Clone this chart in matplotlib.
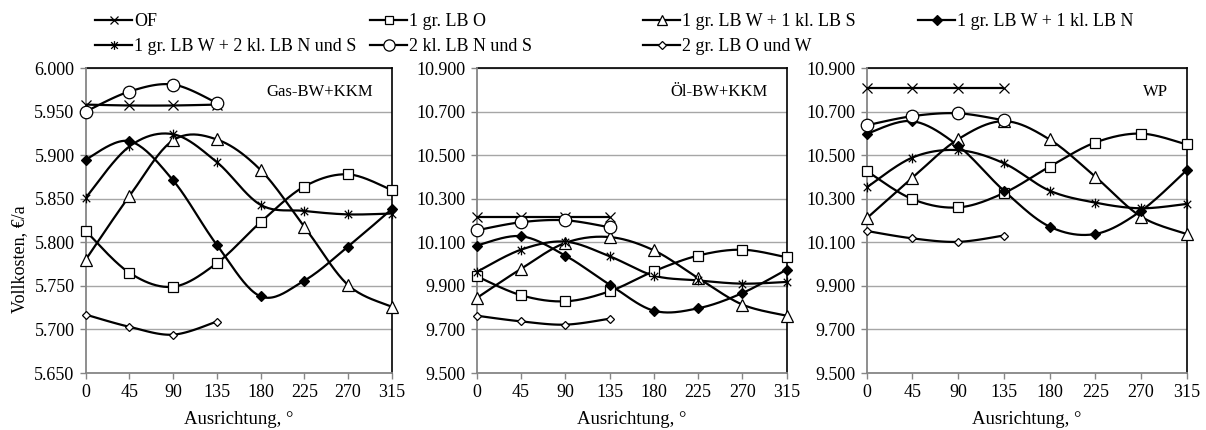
import numpy as np
import matplotlib
matplotlib.use("Agg")
import matplotlib.pyplot as plt
from matplotlib.path import Path
from matplotlib.lines import Line2D

plt.rcParams['font.family'] = ['Liberation Serif', 'DejaVu Serif']

# ---------------- data ----------------
angles = [0, 45, 90, 135, 180, 225, 270, 315]
angles_short = [0, 45, 90, 135]

series_names = ["OF", "1 gr. LB O", "1 gr. LB W + 1 kl. LB S", "1 gr. LB W + 1 kl. LB N",
                "1 gr. LB W + 2 kl. LB N und S", "2 kl. LB N und S", "2 gr. LB O und W"]

panel_titles = ["Gas-BW+KKM", "Öl-BW+KKM", "WP"]

# Gas-BW+KKM
gas_of = [5.958, 5.957, 5.957, 5.958]
gas_lbo = [5.813, 5.765, 5.749, 5.776, 5.823, 5.864, 5.878, 5.860]
gas_w1s = [5.780, 5.853, 5.917, 5.918, 5.883, 5.818, 5.751, 5.726]
gas_w1n = [5.895, 5.916, 5.871, 5.797, 5.738, 5.756, 5.795, 5.838]
gas_w2ns = [5.851, 5.910, 5.924, 5.892, 5.843, 5.836, 5.832, 5.833]
gas_2kns = [5.950, 5.973, 5.981, 5.960]
gas_2gow = [5.717, 5.703, 5.694, 5.709]

# Oel-BW+KKM
oel_of = [10.214, 10.214, 10.214, 10.214]
oel_lbo = [9.944, 9.857, 9.829, 9.875, 9.967, 10.039, 10.066, 10.031]
oel_w1s = [9.844, 9.978, 10.097, 10.124, 10.063, 9.936, 9.814, 9.763]
oel_w1n = [10.085, 10.128, 10.039, 9.906, 9.786, 9.797, 9.867, 9.975]
oel_w2ns = [9.964, 10.066, 10.103, 10.036, 9.947, 9.925, 9.910, 9.918]
oel_2kns = [10.155, 10.192, 10.201, 10.169]
oel_2gow = [9.763, 9.737, 9.722, 9.749]

# WP
wp_of = [10.808, 10.808, 10.808, 10.808]
wp_lbo = [10.427, 10.298, 10.260, 10.326, 10.447, 10.558, 10.599, 10.549]
wp_w1s = [10.210, 10.396, 10.573, 10.656, 10.572, 10.401, 10.218, 10.138]
wp_w1n = [10.598, 10.656, 10.543, 10.337, 10.172, 10.138, 10.244, 10.431]
wp_w2ns = [10.352, 10.489, 10.523, 10.463, 10.337, 10.282, 10.256, 10.276]
wp_2kns = [10.637, 10.679, 10.692, 10.660]
wp_2gow = [10.152, 10.118, 10.102, 10.131]

panels = [
    [gas_of, gas_lbo, gas_w1s, gas_w1n, gas_w2ns, gas_2kns, gas_2gow],
    [oel_of, oel_lbo, oel_w1s, oel_w1n, oel_w2ns, oel_2kns, oel_2gow],
    [wp_of, wp_lbo, wp_w1s, wp_w1n, wp_w2ns, wp_2kns, wp_2gow],
]
y_ranges = [(5.650, 6.000, 0.050), (9.500, 10.900, 0.200), (9.500, 10.900, 0.200)]

# ---------------- styles ----------------
asterisk = Path([(-1, -1), (1, 1), (-1, 1), (1, -1), (0, -1.3), (0, 1.3)],
                [Path.MOVETO, Path.LINETO, Path.MOVETO, Path.LINETO, Path.MOVETO, Path.LINETO])
styles = [
    dict(marker='x', ms=7, mfc='black'),
    dict(marker='s', ms=7, mfc='white'),
    dict(marker='^', ms=8, mfc='white'),
    dict(marker='D', ms=5.5, mfc='black'),
    dict(marker=asterisk, ms=7, mfc='black'),
    dict(marker='o', ms=9, mfc='white'),
    dict(marker='D', ms=4.5, mfc='white'),
]


def smooth(x, y, n=24):
    P = np.column_stack([np.asarray(x, float), np.asarray(y, float)])
    ext = np.vstack([P[0], P, P[-1]])
    t = np.linspace(0, 1, n)[:, None]
    out = []
    for i in range(len(P) - 1):
        p0, p1, p2, p3 = ext[i], ext[i + 1], ext[i + 2], ext[i + 3]
        c1 = p1 + (p2 - p0) / 6.0
        c2 = p2 - (p3 - p1) / 6.0
        seg = (1 - t) ** 3 * p1 + 3 * (1 - t) ** 2 * t * c1 + 3 * (1 - t) * t ** 2 * c2 + t ** 3 * p2
        out.append(seg if i == 0 else seg[1:])
    C = np.vstack(out)
    return C[:, 0], C[:, 1]


W, H = 1206, 430
fig = plt.figure(figsize=(W / 100, H / 100), dpi=100)

axes_px = [(85.7, 306.0), (476.7, 310.0), (866.7, 320.0)]
top_px, bot_px = 68.0, 373.0

GRAY = '#868686'
GRID = '#a6a6a6'
LW = 1.6

for k, (left, width) in enumerate(axes_px):
    ax = fig.add_axes([left / W, 1 - bot_px / H, width / W, (bot_px - top_px) / H])
    ymin, ymax, step = y_ranges[k]
    yt = np.arange(ymin, ymax + step / 2, step)
    ax.set_ylim(ymin, ymax)
    ax.set_xlim(0, 315)
    ax.set_yticks(yt)
    ax.set_yticklabels([f"{v:.3f}" for v in yt])
    ax.set_xticks(angles)
    ax.set_xticklabels([str(a) for a in angles])
    ax.yaxis.grid(True, color=GRID, lw=1.0, zorder=0)
    ax.set_axisbelow(True)
    ax.tick_params(axis='both', direction='out', length=4, width=1, color=GRAY,
                   labelsize=13, pad=4)
    for s in ['top', 'right']:
        ax.spines[s].set_color('black')
        ax.spines[s].set_linewidth(1.2)
    for s in ['left', 'bottom']:
        ax.spines[s].set_color(GRAY)
        ax.spines[s].set_linewidth(1.3)
        ax.spines[s].set_zorder(3)

    for j, data in enumerate(panels[k]):
        xs = angles if len(data) == len(angles) else angles_short
        sx, sy = smooth(xs, data)
        st = styles[j]
        ax.plot(sx, sy, color='black', lw=LW, zorder=4, solid_capstyle='butt')
        ax.plot(xs, data, ls='none', marker=st['marker'], ms=st['ms'], mfc=st['mfc'],
                mec='black', mew=0.9, zorder=5, clip_on=False)

    ax.text(1 - 19 / width, 1 - (92 - top_px) / (bot_px - top_px), panel_titles[k],
            transform=ax.transAxes, ha='right', va='center', fontsize=12)

    ax.set_xlabel("Ausrichtung, °", fontsize=13.5, va='center')
    ax.xaxis.set_label_coords(0.5, -(419 - bot_px) / (bot_px - top_px))
    if k == 0:
        ax.set_ylabel("Vollkosten, €/a", fontsize=13, va='center')
        ax.yaxis.set_label_coords((20 - left) / width, 1 - (259 - top_px) / (bot_px - top_px))

# ---------------- legend (grid layout) ----------------
col_x = [95, 370, 643, 918]
row_y = [21.5, 46.5]
for i, name in enumerate(series_names):
    r, c = divmod(i, 4)
    st = styles[i]
    h = Line2D([], [], color='black', lw=LW, marker=st['marker'], ms=st['ms'] * 0.9,
               mfc=st['mfc'], mec='black', mew=0.9)
    fig.legend(handles=[h], labels=[name], loc='center left',
               bbox_to_anchor=(col_x[c] / W, 1 - row_y[r] / H), frameon=False,
               borderpad=0, borderaxespad=0, handlelength=2.05, handletextpad=0.1,
               fontsize=13)

fig.savefig("out.png", dpi=100)
